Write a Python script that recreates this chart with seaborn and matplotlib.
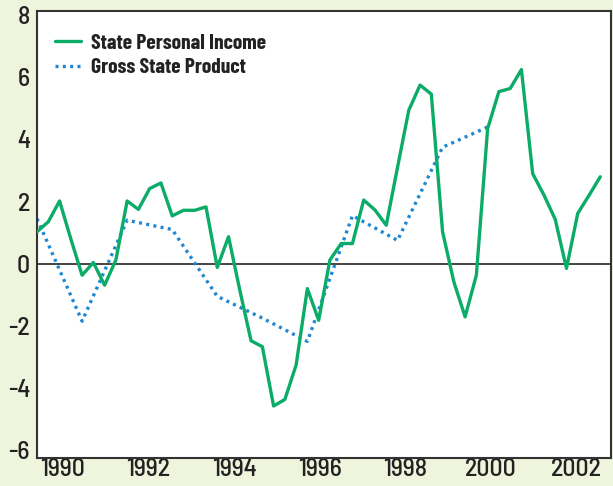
import matplotlib
matplotlib.use("Agg")
import matplotlib.pyplot as plt
import seaborn as sns
import pandas as pd
import numpy as np

# quarterly growth, %
personal_income = [1.03, 1.35, 2.02, 0.8, -0.37, 0.04, -0.69, 0.12, 2.02, 1.75,
                   2.42, 2.6, 1.54, 1.72, 1.72, 1.83, -0.12, 0.87, -0.85, -2.48,
                   -2.67, -4.58, -4.37, -3.26, -0.8, -1.82, 0.12, 0.65, 0.65, 2.05,
                   1.73, 1.24, 3.1, 4.94, 5.75, 5.46, 1.03, -0.58, -1.71, -0.37,
                   4.35, 5.54, 5.64, 6.25, 2.9, 2.21, 1.43, -0.15, 1.62, 2.2, 2.8]
# annual values, one every 4 quarters
state_product = [1.45, -1.85, 1.4, 1.1, -1.05, -1.75, -2.5, 1.55, 0.75, 3.75, 4.4]
year_labels = ['1990', '1992', '1994', '1996', '1998', '2000', '2002']
label_pos = [2.3, 9.9, 17.5, 25.1, 32.7, 40.3, 47.9]

sip = pd.DataFrame({'quarter': np.arange(len(personal_income)), 'value': personal_income})
gsp = pd.DataFrame({'quarter': np.arange(len(state_product)) * 4, 'value': state_product})

sns.set_style('white')
plt.rcParams['font.family'] = ['Barlow Semi Condensed', 'DejaVu Sans']

bg = '#eff4dc'
fig = plt.figure(figsize=(6.13, 4.86), dpi=100, facecolor=bg)
ax = fig.add_axes([0.0604, 0.0566, 0.9363, 0.9204])
ax.set_facecolor('white')

ax.axhline(0, color='#444444', lw=1.4, zorder=1)
sns.lineplot(data=sip, x='quarter', y='value', ax=ax, color='#0aac68', lw=2.4,
             label='State Personal Income', zorder=3)
sns.lineplot(data=gsp, x='quarter', y='value', ax=ax, color='#1e88d2', lw=2.4,
             dashes=False, label='Gross State Product', zorder=2)
ax.lines[-1].set_linestyle((0, (0.9, 1.3)))

ax.set_xlim(0, 50.95)
ax.set_ylim(-6.27, 8.13)
ax.set_yticks(range(-6, 9, 2))
ax.set_yticklabels([str(v) for v in range(-6, 9, 2)])
ax.set_xticks(label_pos)
ax.set_xticklabels(year_labels)
ax.tick_params(axis='both', length=0, labelsize=18.5, colors='#222222')
ax.tick_params(axis='x', pad=0)
ax.tick_params(axis='y', pad=5)
for lab in ax.get_xticklabels() + ax.get_yticklabels():
    lab.set_fontweight(500)
ax.set_xlabel('')
ax.set_ylabel('')

for s in ax.spines.values():
    s.set_visible(True)
    s.set_color('#333333')
    s.set_linewidth(1.5)

leg = ax.legend(loc='upper left', bbox_to_anchor=(-0.003, 0.993), frameon=False,
                handlelength=1.2, handletextpad=0.5, labelspacing=0.25,
                prop={'family': ['Barlow Condensed', 'DejaVu Sans'],
                      'weight': 'bold', 'size': 15.5})
leg.get_lines()[1].set_linestyle((0, (0.9, 1.3)))
for t in leg.get_texts():
    t.set_color('#222222')

fig.savefig('out.png', dpi=100, facecolor=bg)
